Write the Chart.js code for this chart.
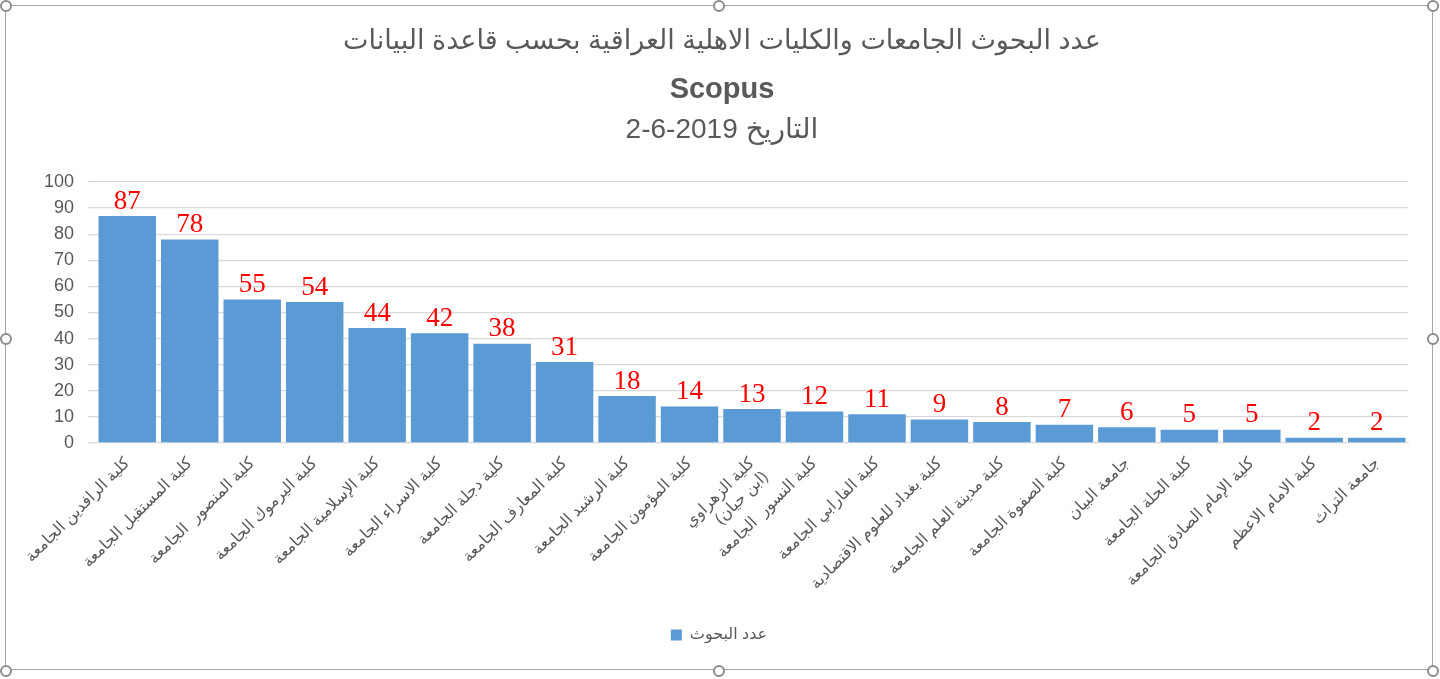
<!DOCTYPE html>
<html>
<head>
<meta charset="utf-8">
<script src="https://cdn.jsdelivr.net/npm/chart.js@4"></script>
<style>
  html, body { margin: 0; padding: 0; background: #fff; }
  #wrap { position: relative; width: 1440px; height: 679px; }
  #frame { position: absolute; left: 5px; top: 5px; width: 1428px; height: 665px; border: 1px solid #a6a6a6; box-sizing: border-box; pointer-events: none; }
  .h { position: absolute; width: 12px; height: 12px; border: 2px solid #8c8c8c; border-radius: 50%; background: #fff; box-sizing: border-box; }
  canvas { position: absolute; left: 0; top: 0; }
</style>
</head>
<body>
<div id="wrap">
  <canvas id="researchChart" width="1440" height="679" dir="rtl"></canvas>
  <div id="frame"></div>
  <div class="h" style="left:0;top:0"></div>
  <div class="h" style="left:713px;top:0"></div>
  <div class="h" style="left:1427px;top:0"></div>
  <div class="h" style="left:0;top:333px"></div>
  <div class="h" style="left:1427px;top:333px"></div>
  <div class="h" style="left:0;top:665px"></div>
  <div class="h" style="left:713px;top:665px"></div>
  <div class="h" style="left:1427px;top:665px"></div>
</div>
<script>
// colleges / universities
const colleges = [
    'كلية الرافدين الجامعة',
    'كلية المستقبل الجامعة',
    'كلية المنصور  الجامعة',
    'كلية اليرموك الجامعة',
    'كلية الإسلامية الجامعة',
    'كلية الاسراء الجامعة',
    'كلية دجلة الجامعة',
    'كلية المعارف الجامعة',
    'كلية الرشيد الجامعة',
    'كلية المؤمون الجامعة',
    ['كلية الزهراوي', '(ابن حيان)'],
    'كلية النسور  الجامعة',
    'كلية الفارابي الجامعة',
    'كلية بغداد للعلوم الاقتصادية',
    'كلية مدينة العلم الجامعة',
    'كلية الصفوة الجامعة',
    'جامعة البيان',
    'كلية الحلة الجامعة',
    'كلية الإمام الصادق الجامعة',
    'كلية الامام الاعظم',
    'جامعة التراث'
];

// number of research papers
const researchCount = [87, 78, 55, 54, 44, 42, 38, 31, 18, 14, 13, 12, 11, 9, 8, 7, 6, 5, 5, 2, 2];

const seriesName = 'عدد البحوث';
const titleText = 'عدد البحوث الجامعات والكليات الاهلية العراقية بحسب قاعدة البيانات';
const subTitle = 'Scopus';
const dateText = '2-6-2019';
const dateWord = 'التاريخ';

const yTicks = { min: 0, max: 100, step: 10 };

// draws the red value above each bar
const valueLabels = {
    id: 'valueLabels',
    afterDatasetsDraw(chart) {
        const ctx = chart.ctx;
        const meta = chart.getDatasetMeta(0);
        ctx.save();
        ctx.font = '27px "Liberation Serif"';
        ctx.fillStyle = '#ff0000';
        ctx.textAlign = 'center';
        ctx.textBaseline = 'bottom';
        meta.data.forEach((bar, i) => {
            ctx.fillText(String(researchCount[i]), bar.x, bar.y - 1);
        });
        ctx.restore();
    }
};

// the three title lines
const titleBlock = {
    id: 'titleBlock',
    afterDraw(chart) {
        const ctx = chart.ctx;
        const cx = 722;
        ctx.save();
        ctx.fillStyle = '#595959';
        ctx.textBaseline = 'middle';
        ctx.textAlign = 'center';
        ctx.font = '27px "Liberation Sans", "DejaVu Sans"';
        ctx.fillText(titleText, cx, 42);
        ctx.font = 'bold 29px "Liberation Sans"';
        ctx.fillText(subTitle, cx, 90);
        // date: number on the left, word on the right
        ctx.font = '28px "Liberation Sans", "DejaVu Sans"';
        const gap = 8;
        const wNum = ctx.measureText(dateText).width;
        const wWord = ctx.measureText(dateWord).width;
        const left = cx - (wNum + gap + wWord) / 2;
        ctx.direction = 'ltr';
        ctx.textAlign = 'left';
        ctx.fillText(dateText, left, 130);
        ctx.fillText(dateWord, left + wNum + gap, 130);
        ctx.restore();
    }
};

new Chart(document.getElementById('researchChart'), {
    type: 'bar',
    data: {
        labels: colleges,
        datasets: [{
            label: seriesName,
            data: researchCount,
            backgroundColor: '#5b9bd5',
            barPercentage: 0.92,
            categoryPercentage: 1.0
        }]
    },
    options: {
        responsive: false,
        animation: false,
        layout: { padding: { top: 182, left: 30, right: 32, bottom: 26 } },
        plugins: {
            title: { display: false },
            tooltip: { enabled: false },
            legend: {
                position: 'bottom',
                labels: {
                    boxWidth: 11,
                    boxHeight: 11,
                    color: '#595959',
                    font: { size: 16, family: '"Liberation Sans", "DejaVu Sans"' },
                    padding: 17
                }
            }
        },
        scales: {
            x: {
                grid: { display: false },
                border: { color: '#d9d9d9' },
                ticks: {
                    color: '#595959',
                    font: { size: 16, family: '"Liberation Sans", "DejaVu Sans"' },
                    minRotation: 45,
                    maxRotation: 45,
                    autoSkip: false,
                    padding: 3
                }
            },
            y: {
                min: yTicks.min,
                max: yTicks.max,
                grid: { color: '#d9d9d9', lineWidth: 1.3 },
                border: { display: false },
                ticks: {
                    stepSize: yTicks.step,
                    autoSkip: false,
                    color: '#595959',
                    font: { size: 18, family: '"Liberation Sans"' },
                    padding: 14
                }
            }
        }
    },
    plugins: [valueLabels, titleBlock]
});
</script>
</body>
</html>
